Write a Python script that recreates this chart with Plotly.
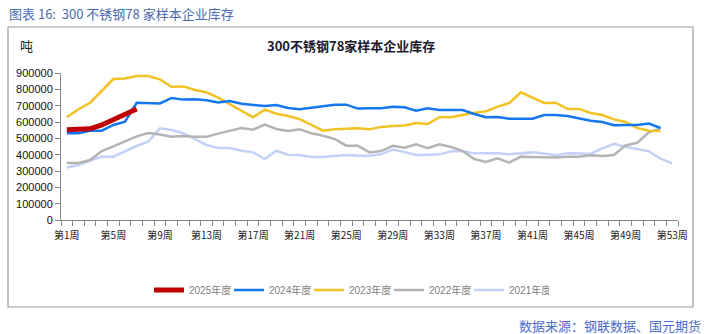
import plotly.graph_objects as go

weeks = list(range(1, 54))
tick_weeks = list(range(1, 54, 4))
tick_labels = [f"第{w}周" for w in tick_weeks]

y2025 = [553000, 553000, 558000, 582000, 614000, 648000, 680000]
y2024 = [531000, 531000, 547000, 547000, 582000, 602000, 718000, 718000, 714000, 747000,
         737000, 739000, 733000, 720000, 729000, 712000, 704000, 698000, 704000, 686000,
         678000, 686000, 698000, 706000, 706000, 682000, 684000, 684000, 694000, 690000,
         669000, 684000, 673000, 673000, 673000, 649000, 629000, 631000, 620000, 620000,
         620000, 643000, 643000, 637000, 622000, 608000, 600000, 580000, 582000, 582000,
         590000, 563000]
y2023 = [629000, 678000, 718000, 792000, 863000, 867000, 882000, 882000, 861000, 816000,
         818000, 796000, 782000, 749000, 708000, 667000, 629000, 676000, 651000, 637000,
         618000, 582000, 547000, 555000, 557000, 561000, 555000, 570000, 576000, 578000,
         594000, 588000, 629000, 629000, 643000, 657000, 665000, 694000, 716000, 782000,
         749000, 717000, 718000, 680000, 680000, 655000, 643000, 616000, 600000, 563000,
         547000, 545000]
y2022 = [349000, 349000, 367000, 422000, 451000, 484000, 512000, 533000, 524000, 510000,
         514000, 510000, 510000, 529000, 546000, 563000, 553000, 584000, 557000, 545000,
         555000, 531000, 516000, 496000, 455000, 455000, 414000, 422000, 454000, 443000,
         463000, 439000, 463000, 447000, 422000, 373000, 355000, 378000, 351000, 388000,
         386000, 383000, 382000, 388000, 388000, 396000, 392000, 398000, 457000, 473000,
         537000, 561000]
y2021 = [322000, 337000, 363000, 388000, 388000, 422000, 453000, 480000, 561000, 551000,
         531000, 496000, 459000, 441000, 441000, 424000, 414000, 373000, 424000, 400000,
         398000, 386000, 386000, 392000, 398000, 394000, 394000, 402000, 431000, 416000,
         398000, 400000, 402000, 420000, 422000, 408000, 408000, 408000, 402000, 408000,
         414000, 407000, 396000, 408000, 406000, 406000, 439000, 467000, 449000, 435000,
         420000, 376000, 347000]

series = [
    ("2021年度", y2021, "#C3D2F7", 2.5, 5),
    ("2022年度", y2022, "#B4B4B4", 2.5, 4),
    ("2023年度", y2023, "#F2C224", 2.5, 3),
    ("2024年度", y2024, "#1577F0", 2.5, 2),
    ("2025年度", y2025, "#C00000", 5, 1),
]

fig = go.Figure()
for name, vals, color, width, rank in series:
    fig.add_trace(go.Scatter(
        x=weeks[:len(vals)], y=vals, mode="lines", name=name,
        line=dict(color=color, width=width), legendrank=rank,
    ))

L, R, T, B = 61, 35, 73, 114
W, H = 713, 334
pw, ph = W - L - R, H - T - B

def px_x(p):
    return (p - L) / pw

def px_y(p):
    return (H - B - p) / ph

fig.update_layout(
    width=W, height=H,
    margin=dict(l=L, r=R, t=T, b=B, autoexpand=False),
    paper_bgcolor="white", plot_bgcolor="white",
    font=dict(family="Liberation Sans, Noto Sans CJK SC", color="#000000"),
    showlegend=True,
    legend=dict(
        orientation="h", x=px_x(349), y=px_y(290), xanchor="center", yanchor="middle",
        font=dict(size=10, color="#7F7F7F", family="Liberation Sans, Noto Sans CJK SC"),
        itemwidth=30, entrywidth=35, entrywidthmode="pixels",
        bgcolor="rgba(0,0,0,0)",
    ),
    xaxis=dict(
        range=[0.5, 53.5], tickvals=tick_weeks, ticktext=tick_labels,
        ticks="", showgrid=False, zeroline=False,
        showline=True, linecolor="#888888", linewidth=1,
        tickfont=dict(size=10, family="Noto Sans CJK SC", color="#222222"),
        ticklabelstandoff=6,
        minor=dict(ticks="outside", tick0=0.5, dtick=1, ticklen=5,
                   tickcolor="#888888", tickwidth=1, showgrid=False),
    ),
    yaxis=dict(
        range=[0, 900000], dtick=100000, tick0=0, tickformat="d",
        ticks="outside", ticklen=5, tickcolor="#888888",
        showgrid=False, zeroline=False,
        showline=True, linecolor="#888888", linewidth=1,
        tickfont=dict(size=11, family="Liberation Sans", color="#111111"),
    ),
)

fig.add_shape(type="rect", xref="paper", yref="paper",
              x0=px_x(8), x1=px_x(693), y0=px_y(307), y1=px_y(27),
              line=dict(color="#9A9A9A", width=1.2), layer="below")

fig.add_annotation(text="图表 16:  300 不锈钢78 家样本企业库存", xref="paper", yref="paper",
                   x=px_x(7), y=px_y(13), xanchor="left", yanchor="middle", showarrow=False,
                   font=dict(size=13, color="#4A6BB2", family="Noto Sans CJK SC"))
fig.add_annotation(text="<b>300不锈钢78家样本企业库存</b>", xref="paper", yref="paper",
                   x=px_x(351), y=px_y(45), xanchor="center", yanchor="middle", showarrow=False,
                   font=dict(size=13, color="#1B1B2F", family="Noto Sans CJK SC"))
fig.add_annotation(text="吨", xref="paper", yref="paper",
                   x=px_x(18), y=px_y(45), xanchor="left", yanchor="middle", showarrow=False,
                   font=dict(size=13, color="#222222", family="Noto Sans CJK SC"))
fig.add_annotation(text="数据来源：钢联数据、国元期货", xref="paper", yref="paper",
                   x=px_x(703), y=px_y(325), xanchor="right", yanchor="middle", showarrow=False,
                   font=dict(size=13, color="#4A6BD0", family="Noto Sans CJK SC"))

fig.write_html("out.html")
